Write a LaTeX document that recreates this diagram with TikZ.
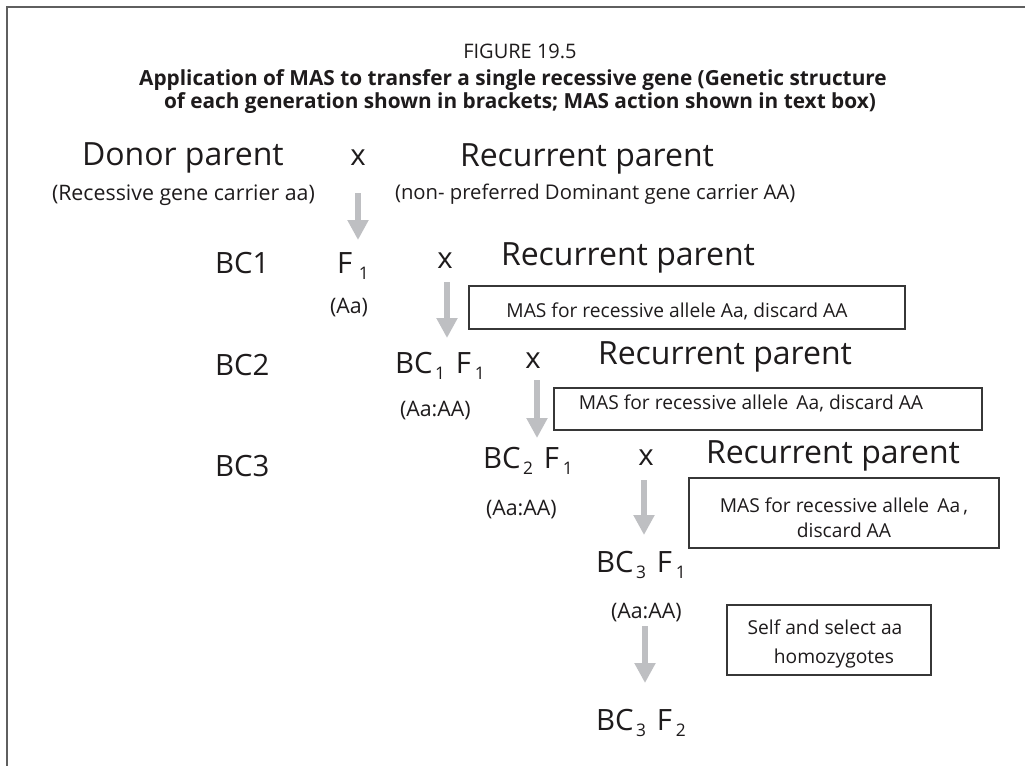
\documentclass[tikz,border=0pt]{standalone}
\usepackage{fontspec}
\setmainfont{Open Sans}
\usetikzlibrary{arrows.meta}
\definecolor{ink}{RGB}{30,27,28}
\definecolor{arr}{RGB}{190,191,194}
\definecolor{framec}{RGB}{95,95,95}
\definecolor{boxc}{RGB}{55,55,55}
\newcommand\lowr[1]{\raisebox{-5pt}{\fontsize{13}{15}\selectfont #1}}
\begin{document}
\begin{tikzpicture}[x=0.75pt,y=-0.75pt,
  txt/.style={inner sep=0pt,outer sep=0pt,text=ink},
  lw/.style={txt,anchor=base west},
  cb/.style={txt,anchor=base},
  huge/.style={font=\fontsize{24}{28}\selectfont},
  gen/.style={font=\fontsize{22}{26}\selectfont},
  sub/.style={font=\fontsize{16}{19}\selectfont},
  boxt/.style={font=\fontsize{14.4}{17}\selectfont},
  ttl/.style={font=\fontsize{15}{18}\selectfont},
  ttlb/.style={font=\fontsize{15.6}{18}\selectfont\bfseries},
  mbox/.style={draw=boxc,line width=1.1pt,inner sep=0pt,outer sep=0pt},
  garrow/.style={draw=arr,line width=4.5pt,-{Triangle[width=15pt,length=15pt]},arr}]
\useasboundingbox (0,0) rectangle (1025,765);
\clip (0,0) rectangle (1025,765);
\fill[white] (0,0) rectangle (1025,765);
\draw[framec,line width=1.5pt] (6.5,7) rectangle (1080,800);
% title
\node[cb,ttl] (fig) at (520,58) {FIGURE 19.5};
\node[cb,ttlb] (t1) at (513,85) {Application of MAS to transfer a single recessive gene (Genetic structure};
\node[cb,ttlb] (t2) at (520,108) {of each generation shown in brackets; MAS action shown in text box)};
% row 0
\node[lw,huge] (donor) at (82,165) {Donor parent};
\node[cb,gen] (x0) at (358,165) {x};
\node[lw,huge] (rec0) at (460,166) {Recurrent parent};
\node[lw,sub] (donsub) at (52,200) {(Recessive gene carrier aa)};
\node[lw,sub,font=\fontsize{15.2}{18}\selectfont] (recsub) at (395,199) {(non- preferred Dominant gene carrier AA)};
% row 1
\node[lw,gen] (bc1) at (215,273) {BC1};
\node[lw,gen] (f1) at (337,273) {F\kern5pt\lowr{1}};
\node[cb,gen] (x1) at (445,268) {x};
\node[lw,huge] (rec1) at (501,265) {Recurrent parent};
\node[lw,sub] (aa1) at (330,313) {(Aa)};
\node[mbox,minimum width=436*0.75pt,minimum height=43*0.75pt] (box1) at (687,307.5) {};
\node[cb,boxt] (m1) at (677,317) {MAS for recessive allele Aa, discard AA};
% row 2
\node[lw,gen] (bc2) at (215,375) {BC2};
\node[lw,gen] (g1) at (395,373) {BC\kern2pt\lowr{1}\kern8pt F\kern3pt\lowr{1}};
\node[cb,gen] (x2) at (533,368) {x};
\node[lw,huge] (rec2) at (598,364) {Recurrent parent};
\node[lw,sub] (aa2) at (400,416) {(Aa:AA)};
\node[mbox,minimum width=428*0.75pt,minimum height=42*0.75pt] (box2) at (768,409) {};
\node[cb,boxt] (m2) at (751,409) {MAS for recessive allele \,Aa, discard AA};
% row 3
\node[lw,gen] (bc3) at (215,476) {BC3};
\node[lw,gen] (g2) at (483,468) {BC\kern2pt\lowr{2}\kern8pt F\kern3pt\lowr{1}};
\node[cb,gen] (x3) at (646,465) {x};
\node[lw,huge] (rec3) at (706,463) {Recurrent parent};
\node[lw,sub] (aa3) at (486,515) {(Aa:AA)};
\node[mbox,minimum width=310*0.75pt,minimum height=70*0.75pt] (box3) at (844,513) {};
\node[cb,boxt] (m3a) at (844,512) {MAS for recessive allele \,Aa\,,};
\node[cb,boxt] (m3b) at (844,537) {discard AA};
% row 4
\node[lw,gen] (g3) at (596,572) {BC\kern2pt\lowr{3}\kern8pt F\kern3pt\lowr{1}};
\node[lw,sub] (aa4) at (611,618) {(Aa:AA)};
\node[mbox,minimum width=204*0.75pt,minimum height=70*0.75pt] (box4) at (829,640) {};
\node[cb,boxt] (s1) at (825,634) {Self and select aa};
\node[cb,boxt] (s2) at (834,663) {homozygotes};
% row 5
\node[lw,gen] (g4) at (596,730) {BC\kern2pt\lowr{3}\kern8pt F\kern3pt\lowr{2}};
% arrows
\coordinate (a1s) at (358,193); \coordinate (a1e) at (358,240);
\coordinate (a2s) at (447,282); \coordinate (a2e) at (447,338);
\coordinate (a3s) at (537,380); \coordinate (a3e) at (537,438);
\coordinate (a4s) at (644,480); \coordinate (a4e) at (644,535);
\coordinate (a5s) at (645,626); \coordinate (a5e) at (645,683);
\draw[garrow] (a1s) -- (a1e);
\draw[garrow] (a2s) -- (a2e);
\draw[garrow] (a3s) -- (a3e);
\draw[garrow] (a4s) -- (a4e);
\draw[garrow] (a5s) -- (a5e);
\end{tikzpicture}
\end{document}
